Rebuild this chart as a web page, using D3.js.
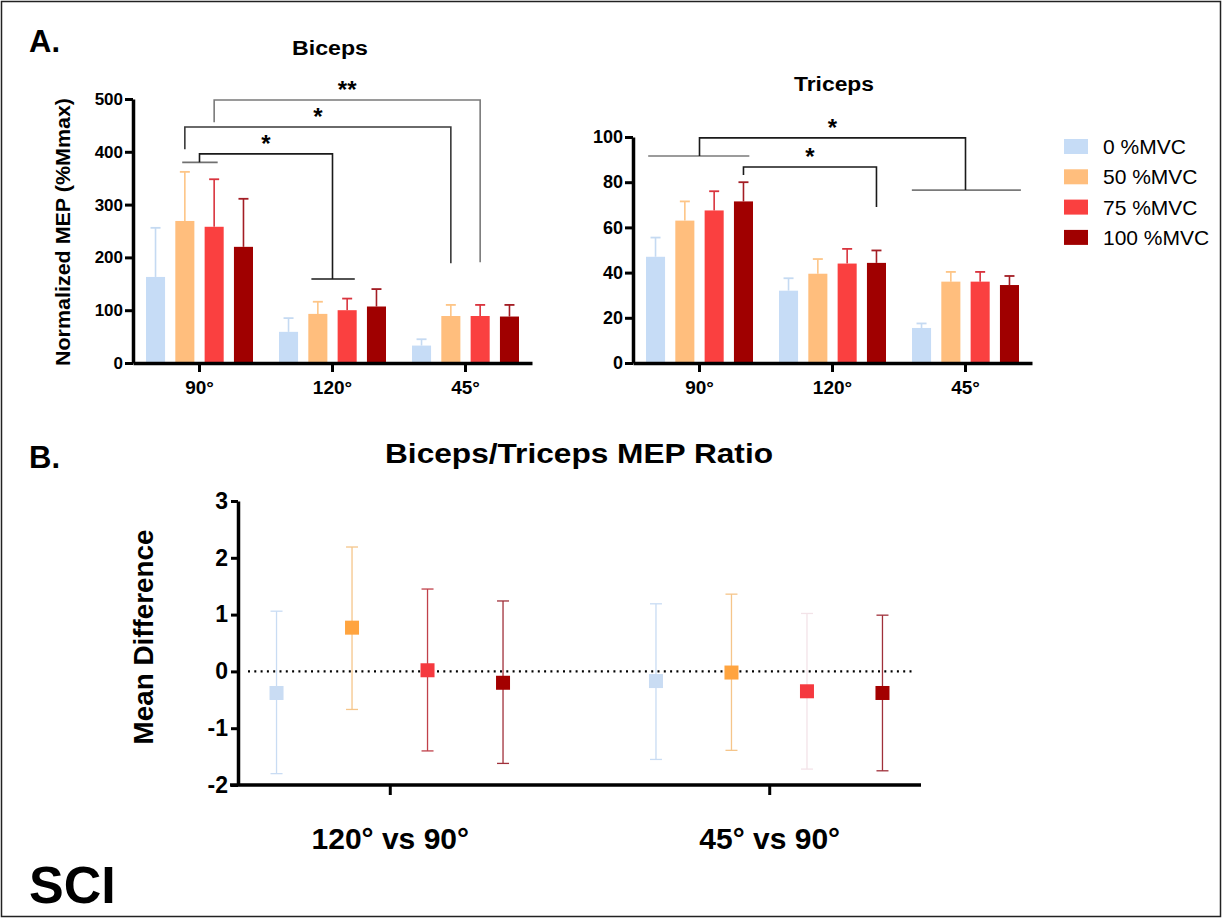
<!DOCTYPE html>
<html>
<head>
<meta charset="utf-8">
<script src="https://cdn.jsdelivr.net/npm/d3@7"></script>
<style>
  body { margin: 0; background: #fff; }
  svg { display: block; font-family: "Liberation Sans", Arial, sans-serif; }
</style>
</head>
<body>
<svg width="1223" height="919"></svg>
<script>
// ---- data ----
var series = ["0 %MVC", "50 %MVC", "75 %MVC", "100 %MVC"];
var angles = ["90°", "120°", "45°"];

// biceps, % Mmax (rows = angle, cols = series)
var bicepsMean = [[163, 269, 258, 220], [59, 93, 100, 107], [33, 89, 89, 88]];
var bicepsSD   = [[93, 93, 90, 91], [26, 23, 22, 33], [12, 21, 21, 22]];
var bicepsTicks = [0, 100, 200, 300, 400, 500];

// triceps
var tricepsMean = [[47, 63, 67.5, 71.5], [32, 39.5, 44, 44.3], [15.5, 36, 36, 34.5]];
var tricepsSD   = [[8.5, 8.5, 8.5, 8.5], [5.5, 6.5, 6.5, 5.5], [2, 4.3, 4.3, 4]];
var tricepsTicks = [0, 20, 40, 60, 80, 100];

// biceps/triceps ratio, mean difference with 95% CI
var comparisons = ["120° vs 90°", "45° vs 90°"];
var ratioMean = [[-0.38, 0.77, 0.02, -0.20], [-0.17, -0.02, -0.35, -0.38]];
var ratioLow  = [[-1.80, -0.67, -1.40, -1.62], [-1.55, -1.39, -1.72, -1.75]];
var ratioHigh = [[1.06, 2.19, 1.45, 1.24], [1.19, 1.36, 1.02, 0.99]];
var ratioTicks = [-2, -1, 0, 1, 2, 3];

// significance brackets: [angle, series pos] ends, values in axis units
var bicepsBrackets = [
  { l: [0, 1.5], r: [1, 1.5], top: 396, lEnd: 380, rEnd: 159, label: "*", color: "#1a1a1a" },
  { l: [0, 1], r: [2, 1], top: 447, lEnd: 405, rEnd: 189, label: "*", color: "#3a3a3a" },
  { l: [0, 2], r: [2, 2], top: 498, lEnd: 456, rEnd: 191, label: "**", color: "#7a7a7a" }
];
var bicepsBars = [
  { cat: 0, from: 0.91, to: 2.12, v: 380, color: "#707070" },
  { cat: 1, from: 0.78, to: 2.26, v: 159, color: "#1a1a1a" }
];
var tricepsBrackets = [
  { l: [0, 1.5], r: [2, 1.5], top: 99.6, lEnd: 91.6, rEnd: 76.5, label: "*", color: "#1a1a1a" },
  { l: [0, 3], r: [1, 3], top: 86.7, lEnd: 83.2, rEnd: 69, label: "*", color: "#1a1a1a" }
];
var tricepsBars = [
  { cat: 0, from: -0.25, to: 3.2, v: 91.6, color: "#7a7a7a" },
  { cat: 2, from: -0.33, to: 3.39, v: 76.5, color: "#7a7a7a" }
];

var barColors = ["#c6dcf6", "#ffbe7d", "#fa4040", "#a00000"];
var errColors = ["#c5daf2", "#fdc587", "#d9343e", "#a31d24"];
var markColors = ["#c9dcf3", "#ffa43f", "#f5393f", "#a30000"];
var ciColors = [["#c9dcf3", "#f5c58a", "#c0414a", "#a0303a"],
                ["#c9dcf3", "#f5c58a", "#f3e3e8", "#a0303a"]];

var svg = d3.select("svg");

svg.append("rect")
    .attr("x", 1.5).attr("y", 1.5)
    .attr("width", 1219).attr("height", 915)
    .attr("fill", "#fff").attr("stroke", "#222").attr("stroke-width", 1.5);

function styleAxis(g, fs) {
  g.select(".domain").attr("stroke", "#000").attr("stroke-width", 3.5);
  g.selectAll(".tick line").attr("stroke", "#000").attr("stroke-width", 3);
  g.selectAll(".tick text")
      .attr("fill", "#000")
      .style("font-size", fs + "px")
      .style("font-weight", "bold")
      .style("font-family", "'Liberation Sans', Arial, sans-serif");
}

function drawBars(cfg) {
  var g = svg.append("g");
  var x = d3.scaleBand().domain(angles).range([cfg.left, cfg.right]);
  var xs = d3.scaleBand().domain(series).range([-53.5, 53.5]).paddingInner(0.35);
  var y = d3.scaleLinear().domain([0, cfg.max]).range([cfg.bottom, cfg.top]);
  var pos = (c, i) => x(angles[c]) + x.bandwidth() / 2 + (i - 1.5) * xs.step();

  var rows = [];
  angles.forEach((a, c) => series.forEach((s, i) => {
    rows.push({ c: c, i: i, a: a, s: s, mean: cfg.mean[c][i], sd: cfg.sd[c][i] });
  }));

  // error bars (upper only)
  var eb = g.selectAll(".err").data(rows).enter().append("g");
  eb.append("line")
      .attr("x1", d => pos(d.c, d.i)).attr("x2", d => pos(d.c, d.i))
      .attr("y1", d => y(d.mean)).attr("y2", d => y(d.mean + d.sd))
      .attr("stroke", d => errColors[d.i]).attr("stroke-width", 1.6);
  eb.append("line")
      .attr("x1", d => pos(d.c, d.i) - 5).attr("x2", d => pos(d.c, d.i) + 5)
      .attr("y1", d => y(d.mean + d.sd)).attr("y2", d => y(d.mean + d.sd))
      .attr("stroke", d => errColors[d.i]).attr("stroke-width", 1.8);

  g.selectAll(".bar").data(rows).enter().append("rect")
      .attr("x", d => x(d.a) + x.bandwidth() / 2 + xs(d.s))
      .attr("width", xs.bandwidth())
      .attr("y", d => y(d.mean))
      .attr("height", d => y(0) - y(d.mean))
      .attr("fill", d => barColors[d.i]);

  // axes
  var ya = g.append("g")
      .attr("transform", `translate(${cfg.left},0)`)
      .call(d3.axisLeft(y).tickValues(cfg.ticks).tickSize(8).tickPadding(2).tickSizeOuter(0));
  styleAxis(ya, cfg.yfs);
  var xa = g.append("g")
      .attr("transform", `translate(0,${cfg.bottom})`)
      .call(d3.axisBottom(x).tickSize(9).tickPadding(9).tickSizeOuter(0));
  styleAxis(xa, 19);

  // significance annotations
  cfg.bars.forEach(b => {
    g.append("line")
        .attr("x1", pos(b.cat, b.from)).attr("x2", pos(b.cat, b.to))
        .attr("y1", y(b.v)).attr("y2", y(b.v))
        .attr("stroke", b.color).attr("stroke-width", 1.6);
  });
  cfg.brackets.forEach(b => {
    var xl = pos(b.l[0], b.l[1]), xr = pos(b.r[0], b.r[1]);
    g.append("path")
        .attr("d", `M${xl},${y(b.lEnd)}V${y(b.top)}H${xr}V${y(b.rEnd)}`)
        .attr("fill", "none").attr("stroke", b.color).attr("stroke-width", 1.6);
    g.append("text")
        .attr("x", (xl + xr) / 2).attr("y", y(b.top) - 15.5 + 0.58 * 24)
        .attr("text-anchor", "middle")
        .style("font-size", "24px").style("font-weight", "bold")
        .text(b.label);
  });

  g.append("text")
      .attr("x", cfg.titleX).attr("y", cfg.titleY)
      .attr("text-anchor", "middle")
      .style("font-size", "20px").style("font-weight", "bold")
      .attr("textLength", cfg.titleLen).attr("lengthAdjust", "spacingAndGlyphs")
      .text(cfg.title);
}

drawBars({
  left: 133, right: 532, top: 99, bottom: 363, max: 500,
  mean: bicepsMean, sd: bicepsSD, ticks: bicepsTicks, yfs: 17,
  brackets: bicepsBrackets, bars: bicepsBars,
  title: "Biceps", titleX: 330, titleY: 55, titleLen: 76
});
drawBars({
  left: 633, right: 1032, top: 137, bottom: 363, max: 100,
  mean: tricepsMean, sd: tricepsSD, ticks: tricepsTicks, yfs: 18,
  brackets: tricepsBrackets, bars: tricepsBars,
  title: "Triceps", titleX: 834, titleY: 91, titleLen: 80
});

svg.append("text")
    .attr("transform", "translate(70,232) rotate(-90)")
    .attr("text-anchor", "middle")
    .style("font-size", "20px").style("font-weight", "bold")
    .attr("textLength", 268).attr("lengthAdjust", "spacingAndGlyphs")
    .text("Normalized MEP (%Mmax)");

// legend
var legend = svg.append("g").attr("transform", "translate(1064,146.5)");
var lg = legend.selectAll("g").data(series).enter().append("g")
    .attr("transform", (d, i) => `translate(0,${i * 30.3})`);
lg.append("rect").attr("x", 0).attr("y", -7.5).attr("width", 24).attr("height", 15)
    .attr("fill", (d, i) => barColors[i]);
lg.append("text").attr("x", 39).attr("y", 0).attr("dy", "0.36em")
    .style("font-size", "21px").text(d => d);

// ---- panel B ----
var bx = d3.scalePoint().domain(comparisons).range([238, 921]).padding(0.4);
var bxs = d3.scaleBand().domain(series).range([-151, 151]);
var by = d3.scaleLinear().domain([-2, 3]).range([785, 501]);

var pts = [];
comparisons.forEach((c, k) => series.forEach((s, i) => {
  pts.push({ k: k, i: i, c: c, s: s, m: ratioMean[k][i], lo: ratioLow[k][i], hi: ratioHigh[k][i] });
}));
var px = d => bx(d.c) + bxs(d.s) + bxs.bandwidth() / 2;

svg.append("line")
    .attr("x1", 248).attr("x2", 915)
    .attr("y1", by(0)).attr("y2", by(0))
    .attr("stroke", "#000").attr("stroke-width", 2.2)
    .attr("stroke-dasharray", "2,4.3");

var ci = svg.append("g").selectAll("g").data(pts).enter().append("g")
    .attr("stroke", d => ciColors[d.k][d.i]).attr("stroke-width", 1.3);
ci.append("line").attr("x1", px).attr("x2", px)
    .attr("y1", d => by(d.lo)).attr("y2", d => by(d.hi));
ci.append("line").attr("x1", d => px(d) - 6).attr("x2", d => px(d) + 6)
    .attr("y1", d => by(d.lo)).attr("y2", d => by(d.lo));
ci.append("line").attr("x1", d => px(d) - 6).attr("x2", d => px(d) + 6)
    .attr("y1", d => by(d.hi)).attr("y2", d => by(d.hi));

svg.append("g").selectAll("rect").data(pts).enter().append("rect")
    .attr("x", d => px(d) - 7).attr("y", d => by(d.m) - 7)
    .attr("width", 14).attr("height", 14)
    .attr("fill", d => markColors[d.i]);

var bya = svg.append("g").attr("transform", "translate(238,0)")
    .call(d3.axisLeft(by).tickValues(ratioTicks).tickFormat(d => String(d))
      .tickSize(7).tickPadding(3).tickSizeOuter(0));
styleAxis(bya, 23);
var bxa = svg.append("g").attr("transform", "translate(0,785)")
    .call(d3.axisBottom(bx).tickSize(10).tickPadding(33).tickSizeOuter(0));
styleAxis(bxa, 30);
bxa.select(".domain").attr("d", "M230,0H921");

svg.append("text")
    .attr("transform", "translate(153,637) rotate(-90)")
    .attr("text-anchor", "middle")
    .style("font-size", "27px").style("font-weight", "bold")
    .attr("textLength", 215).attr("lengthAdjust", "spacingAndGlyphs")
    .text("Mean Difference");

svg.append("text")
    .attr("x", 579).attr("y", 463)
    .attr("text-anchor", "middle")
    .style("font-size", "28px").style("font-weight", "bold")
    .attr("textLength", 388).attr("lengthAdjust", "spacingAndGlyphs")
    .text("Biceps/Triceps MEP Ratio");

// panel letters
svg.append("text").attr("x", 29).attr("y", 52)
    .style("font-size", "31px").style("font-weight", "bold").text("A.");
svg.append("text").attr("x", 29).attr("y", 468)
    .style("font-size", "31px").style("font-weight", "bold").text("B.");
svg.append("text").attr("x", 29).attr("y", 903)
    .style("font-size", "52px").style("font-weight", "bold").text("SCI");
</script>
</body>
</html>
